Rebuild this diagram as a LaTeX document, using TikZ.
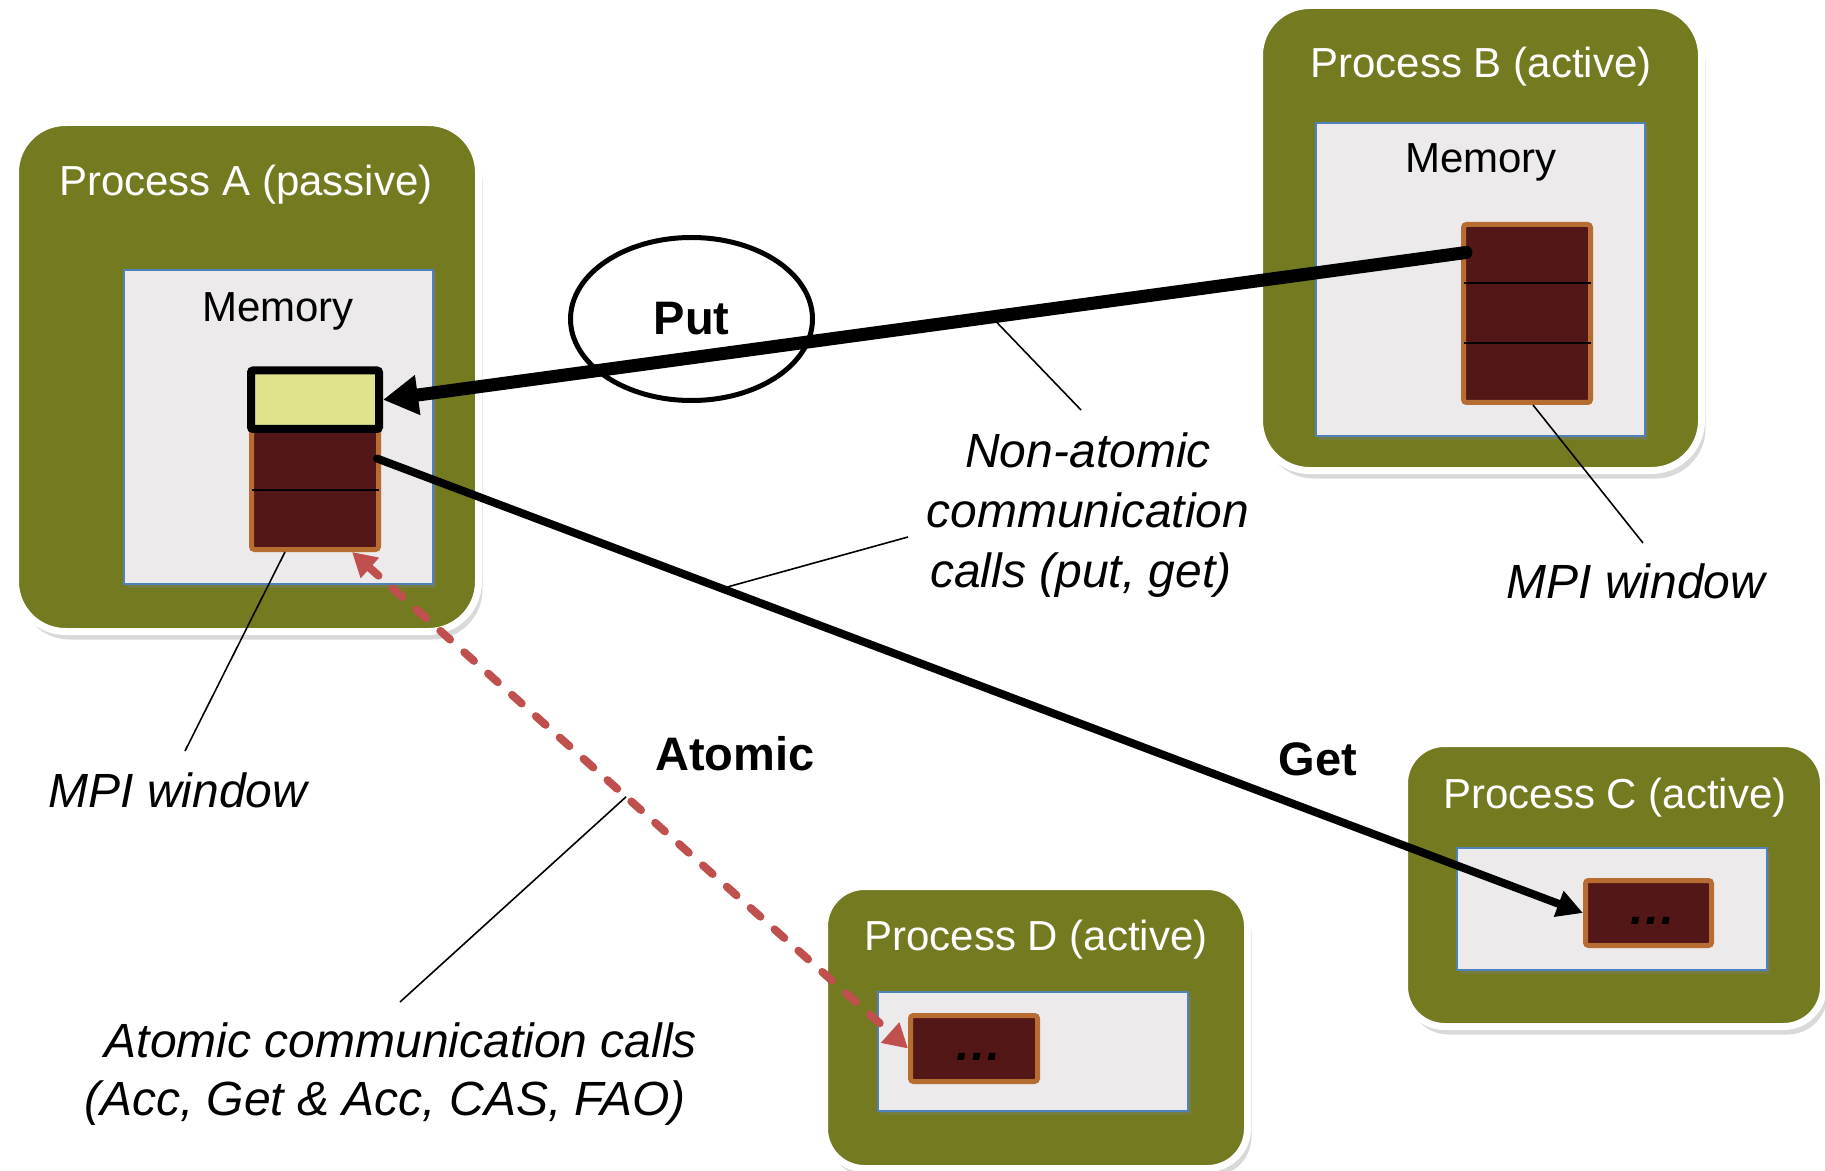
\documentclass[tikz,border=0pt]{standalone}
\usepackage{fontspec}
\setmainfont{Liberation Sans}
\usetikzlibrary{arrows.meta,shadows,calc,shapes.geometric}
\definecolor{procgreen}{RGB}{115,122,31}
\definecolor{memfill}{RGB}{236,234,235}
\definecolor{memblue}{RGB}{79,129,189}
\definecolor{winbrown}{RGB}{84,23,24}
\definecolor{winorange}{RGB}{183,109,49}
\definecolor{hiyellow}{RGB}{222,227,140}
\definecolor{atomred}{RGB}{192,80,77}
\begin{document}
\begin{tikzpicture}[x=0.5pt,y=-0.5pt,
  process/.style={fill=procgreen, draw=white, line width=3.5pt, rounded corners=#1,
    drop shadow={shadow xshift=2pt, shadow yshift=-4pt, opacity=0.3},
    inner sep=0pt, outer sep=0pt},
  memory/.style={fill=memfill, draw=memblue, line width=1pt,
    drop shadow={shadow xshift=1.5pt, shadow yshift=-2pt, opacity=0.35},
    inner sep=0pt, outer sep=0.5pt},
  window/.style={fill=winbrown, draw=winorange, line width=2.5pt, rounded corners=1.5pt,
    inner sep=0pt, outer sep=1.25pt},
  yellowbox/.style={fill=hiyellow, draw=black, line width=4pt, rounded corners=1pt,
    inner sep=0pt, outer sep=2pt},
  divider/.style={draw=black, line width=1pt},
  title/.style={text=white, font=\fontsize{21}{25}\selectfont, inner sep=0pt, anchor=base},
  memtext/.style={text=black, font=\fontsize{21}{25}\selectfont, inner sep=0pt, anchor=base},
  label/.style={text=black, font=\fontsize{24}{29}\selectfont\itshape, inner sep=0pt, anchor=base},
  boldlabel/.style={text=black, font=\fontsize{23.5}{28}\selectfont\bfseries, inner sep=0pt, anchor=base},
  dots/.style={text=black, font=\fontsize{24}{29}\selectfont\bfseries\itshape, inner sep=0pt, anchor=base},
  leader/.style={draw=black, line width=0.8pt},
  putarrow/.style={draw=black, line width=6.5pt, line cap=round, arrows={-Triangle[length=17.5pt,width=19pt]}},
  getarrow/.style={draw=black, line width=4pt, line cap=round, arrows={-Triangle[length=13pt,width=13pt]}},
  atomarrow/.style={draw=atomred, line width=4pt, line cap=round, dash pattern=on 6.5pt off 9.5pt,
    arrows={Triangle[length=12pt,width=13pt]-Triangle[length=12pt,width=13pt]}},
  putellipse/.style={ellipse, draw=black, line width=2.5pt, inner sep=0pt,
    font=\fontsize{23.5}{28}\selectfont\bfseries}
]
\useasboundingbox (0,0) rectangle (1825,1171);

% ---------- Process A ----------
\node[process=25pt, minimum width=231.5pt, minimum height=254.5pt] (procA) at (247,377) {};
\node[title] (titleA) at (246,196) {Process A (passive)};
\node[memory, minimum width=154.5pt, minimum height=157pt] (memA) at (278.5,427) {};
\node[memtext] (memtextA) at (278,322) {Memory};
\node[window, minimum width=63.5pt, minimum height=61pt] (winA) at (315,488.5) {};
\draw[divider] (251.5,490) -- (378.5,490);
\node[yellowbox, minimum width=64pt, minimum height=29.25pt] (yellowA) at (315,399.75) {};

% ---------- Process B ----------
\node[process=25pt, minimum width=221pt, minimum height=232.5pt] (procB) at (1480.5,238) {};
\node[title] (titleB) at (1481,78) {Process B (active)};
\node[memory, minimum width=164.5pt, minimum height=156.5pt] (memB) at (1480.5,279.5) {};
\node[memtext] (memtextB) at (1481,173) {Memory};
\node[window, minimum width=63.5pt, minimum height=89pt] (winB) at (1527,313.5) {};
\draw[divider] (1463.5,283) -- (1590.5,283);
\draw[divider] (1463.5,343) -- (1590.5,343);

% ---------- Process C ----------
\node[process=20pt, minimum width=209.5pt, minimum height=141.5pt] (procC) at (1614,885) {};
\node[title] (titleC) at (1615,808) {Process C (active)};
\node[memory, minimum width=155pt, minimum height=61pt] (memC) at (1612,909) {};
\node[window, minimum width=63pt, minimum height=32.5pt] (winC) at (1648.5,913) {};
\node[dots] (dotsC) at (1652,924) {…};

% ---------- Process D ----------
\node[process=20pt, minimum width=211.5pt, minimum height=141pt] (procD) at (1036,1027.5) {};
\node[title] (titleD) at (1036,950) {Process D (active)};
\node[memory, minimum width=155pt, minimum height=59.5pt] (memD) at (1033,1051.5) {};
\node[window, minimum width=63.5pt, minimum height=33pt] (winD) at (974,1048.5) {};
\node[dots] (dotsD) at (978,1060) {…};

% ---------- connectors ----------
\coordinate (putstart) at ($(winB.west)+(5,-61)$);
\coordinate (getstart) at ($(winA.east)+(-4,-30)$);
\coordinate (redA) at ($(winA.south east)+(-29,0)$);

\node[putellipse, minimum width=121pt, minimum height=81.5pt] (put) at (691.5,319) {Put};

\draw[putarrow] (putstart) -- coordinate[pos=0.438] (onput) (yellowA.east);
\draw[getarrow] (getstart) -- coordinate[pos=0.286] (onget) (winC.west);
\draw[atomarrow] (redA) -- coordinate[pos=0.493] (onred) (winD.west);

% ---------- labels ----------
\node[boldlabel] (atomiclbl) at (735,770) {Atomic};
\node[boldlabel] (getlbl) at (1318,775) {Get};

\node[label] (na1) at (1088,467) {Non-atomic};
\node[label] (na2) at (1088,527) {communication};
\node[label] (na3) at (1081,587) {calls (put, get)};

\node[label] (mpiA) at (178,807) {MPI window};
\node[label] (mpiB) at (1636,598) {MPI window};

\node[label] (ac1) at (401,1057) {Atomic communication calls};
\node[label] (ac2) at (385,1115) {(Acc, Get \& Acc, CAS, FAO)};

% ---------- leader lines ----------
\coordinate (naend1) at (1081,410);
\coordinate (naend2) at (722,588);
\coordinate (mpiAend) at (185,751);
\coordinate (mpiBend) at (1643,543);
\coordinate (acend) at (400,1002);
\coordinate (mpiAstart) at ($(winA.south)+(-30,0)$);
\coordinate (mpiBstart) at ($(winB.south)+(6,0)$);
\coordinate (na2start) at (908,537);

\draw[leader] (onput) -- (naend1);
\draw[leader] (na2start) -- (onget);
\draw[leader] (mpiAstart) -- (mpiAend);
\draw[leader] (mpiBstart) -- (mpiBend);
\draw[leader] (onred) -- (acend);
\end{tikzpicture}
\end{document}
